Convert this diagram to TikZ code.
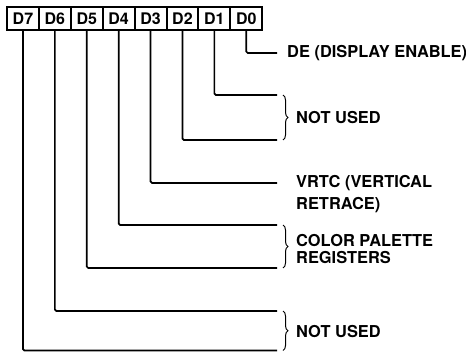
\documentclass[tikz,border=0pt]{standalone}
\usepackage{fontspec}
\setmainfont{TeX Gyre Heros}
\usetikzlibrary{positioning,decorations.pathreplacing}

\begin{document}
\begin{tikzpicture}[x=1pt,y=-1pt,
  bitbox/.style={draw,line width=2pt,minimum width=31.9pt,minimum height=23pt,inner sep=0pt,font=\fontsize{16}{18}\selectfont\bfseries},
  wire/.style={line width=1.7pt,rounded corners=1.5pt},
  lbl/.style={anchor=west,inner sep=0pt,align=left,font=\fontsize{16.4}{17}\selectfont\bfseries},
  grp/.style={decorate,decoration={brace,amplitude=5pt},line width=1pt}]
  \useasboundingbox (0,0) rectangle (466,353);
  % register bits, D7 on the left
  \foreach \b [count=\i from 0] in {7,6,5,4,3,2,1,0}
    \node[bitbox] (d\b) at (22.95+31.9*\i,18.5) {D\b};
  % one wire per bit: down, then right
  \foreach \b/\y in {0/53,1/95,2/140,3/183,4/225,5/268,6/311,7/350.5} {
    \coordinate (e\b) at (277,\y);
    \draw[wire] (d\b.south) |- (e\b);
  }
  % braces for the bit pairs
  \draw[grp] ([xshift=6pt]e1) -- ([xshift=6pt]e2);
  \draw[grp] ([xshift=6pt]e4) -- ([xshift=6pt]e5);
  \draw[grp] ([xshift=6pt]e6) -- ([xshift=6pt]e7);
  \node[lbl,right=10pt of e0] (de) {DE (DISPLAY ENABLE)};
  \node[lbl] (nu1) at (296,118) {NOT USED};
  \node[lbl] (vrtc) at (296,194) {VRTC (VERTICAL\\[5pt]RETRACE)};
  \node[lbl] (cpr) at (296,249.5) {COLOR PALETTE\\REGISTERS};
  \node[lbl] (nu2) at (296,332) {NOT USED};
\end{tikzpicture}
\end{document}
